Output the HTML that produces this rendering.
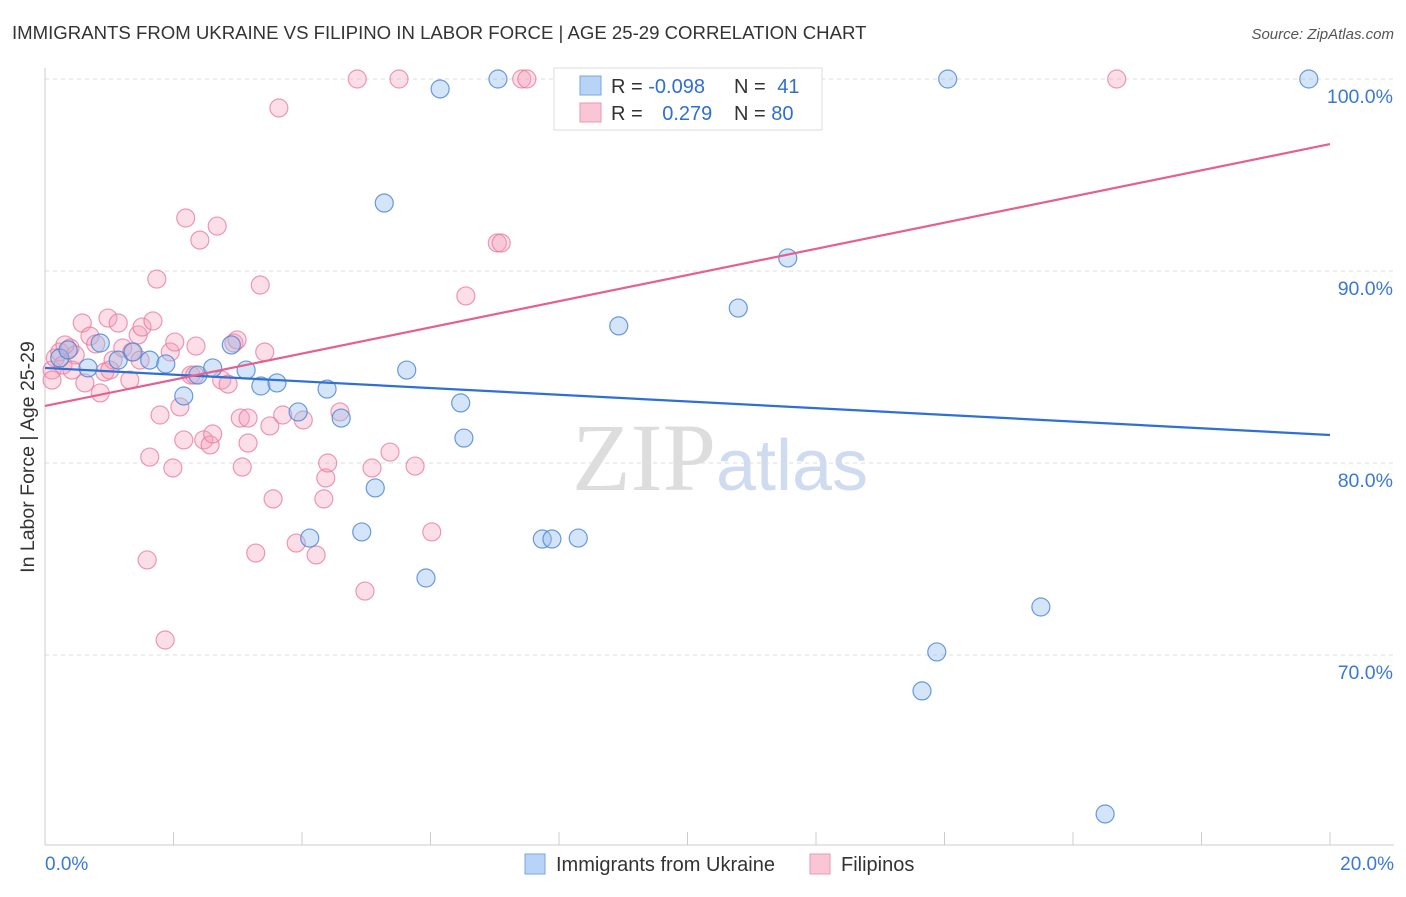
<!DOCTYPE html>
<html><head><meta charset="utf-8"><style>
body{margin:0;background:#fff;font-family:"Liberation Sans",sans-serif;}
svg text{font-family:"Liberation Sans",sans-serif;}
</style></head><body>
<svg id="chart" width="1406" height="892" xmlns="http://www.w3.org/2000/svg">
<text x="12" y="39" font-size="18.6" fill="#333">IMMIGRANTS FROM UKRAINE VS FILIPINO IN LABOR FORCE | AGE 25-29 CORRELATION CHART</text>
<text x="1394" y="39" font-size="15" fill="#555" text-anchor="end" font-style="italic">Source: ZipAtlas.com</text>
<text x="720" y="490" font-size="96" text-anchor="middle"><tspan fill="#ddd" font-family="Liberation Serif">ZIP</tspan><tspan fill="#cfdcf0" font-size="72">atlas</tspan></text>
<g id="grid"></g><g id="axes"></g>
<g id="pts"></g><g id="lines"></g>
<text transform="translate(34,457) rotate(-90)" font-size="19.5" fill="#333" text-anchor="middle">In Labor Force | Age 25-29</text>
<g>
<rect x="554" y="68" width="268" height="62" fill="#fff" stroke="#ddd"/>
<rect x="580" y="76" width="21" height="19" fill="#b8d3f5" stroke="#7aa6e0"/>
<rect x="580" y="103" width="21" height="19" fill="#f9c6d5" stroke="#ec97b2"/>
<text x="611" y="93" font-size="20" fill="#333">R = <tspan fill="#2f6fd0">-0.098</tspan></text>
<text x="734" y="93" font-size="20" fill="#333">N = <tspan fill="#2f6fd0" dx="6">41</tspan></text>
<text x="611" y="120" font-size="20" fill="#333">R = <tspan fill="#2f6fd0" dx="14">0.279</tspan></text>
<text x="734" y="120" font-size="20" fill="#333">N = <tspan fill="#2f6fd0">80</tspan></text>
</g>
<g>
<rect x="525" y="854" width="20" height="20" fill="#b8d3f5" stroke="#7aa6e0"/>
<text x="556" y="871" font-size="20" fill="#333">Immigrants from Ukraine</text>
<rect x="810" y="854" width="20" height="20" fill="#f9c6d5" stroke="#ec97b2"/>
<text x="841" y="871" font-size="20" fill="#333">Filipinos</text>
</g>
</svg>
<script>
const blueX=[0.23,0.36,0.67,0.86,1.14,1.37,1.63,1.88,2.16,2.38,2.61,2.90,3.13,3.36,3.61,3.94,4.12,4.39,4.61,4.93,5.14,5.28,5.63,5.93,6.15,6.47,6.52,7.05,7.74,7.89,8.30,8.93,10.19,10.79,11.56,13.65,13.88,14.05,15.50,16.50,19.67];
const blueY=[85.47,85.89,84.95,86.25,85.36,85.78,85.36,85.16,83.49,84.58,84.95,86.15,84.84,84.01,84.17,82.66,76.09,83.85,82.34,76.41,78.70,93.54,84.84,74.01,99.48,83.13,81.30,100,76.04,76.04,76.09,87.14,100,88.07,90.68,68.13,70.16,100,72.50,61.72,100];
const pinkX=[0.11,0.16,0.23,0.28,0.39,0.47,0.58,0.62,0.70,0.79,0.86,0.93,0.98,1.06,1.14,1.21,1.32,1.35,1.45,1.51,1.59,1.63,1.68,1.74,1.79,1.87,1.95,1.99,2.02,2.10,2.16,2.19,2.27,2.35,2.41,2.47,2.57,2.61,2.68,2.75,2.85,2.94,2.99,3.04,3.07,3.16,3.16,3.28,3.35,3.42,3.50,3.55,3.64,3.70,3.91,4.02,4.22,4.34,4.37,4.40,4.59,4.86,4.98,5.09,5.37,5.51,5.76,6.02,6.55,7.04,7.10,7.42,7.50,16.68,0.11,0.31,0.42,1.01,1.48,2.33];
const pinkY=[84.84,85.47,85.78,85.10,85.99,85.63,87.29,84.17,86.61,86.20,83.65,84.74,87.55,85.36,87.29,85.99,84.32,85.78,86.67,87.08,74.95,80.31,87.40,89.58,82.50,70.78,85.78,79.74,86.30,82.92,81.20,92.76,84.58,86.09,91.61,81.20,80.94,81.51,92.34,84.32,84.11,86.25,86.41,82.34,79.79,81.04,82.34,75.31,89.27,85.78,81.93,78.13,98.49,82.50,75.83,82.24,75.21,78.13,79.22,80.00,82.66,100,73.33,79.74,80.57,100,79.84,76.41,88.70,91.46,91.46,100,100,100,84.32,86.15,84.84,84.84,85.36,84.58];
const blueTrend=[84.95,81.46];
const pinkTrend=[82.97,96.61];
const yTicks=[100,90,80,70];
const xTicks=[0,2,4,6,8,10,12,14,16,18,20];
const NS='http://www.w3.org/2000/svg';
const sx=v=>45+v*64.25, sy=v=>79+(100-v)*19.2;
function mk(tag,parent,attrs){const e=document.createElementNS(NS,tag);for(const k in attrs)e.setAttribute(k,attrs[k]);document.getElementById(parent).appendChild(e);return e;}
yTicks.forEach(t=>{
  const l=mk('line','grid',{x1:45,x2:1394,y1:sy(t),y2:sy(t),stroke:'#ddd','stroke-dasharray':'4,4'});
  
  
  const tx=mk('text','grid',{x:1393,y:sy(t)+24,'font-size':19.5,fill:'#3a78d6','text-anchor':'end'});
  tx.textContent=t.toFixed(1)+'%';
  
  
});
const ax=mk('line','axes',{x1:45,x2:45,y1:68,y2:845,stroke:'#ccc'});


const bx=mk('line','axes',{x1:45,x2:1394,y1:845,y2:845,stroke:'#ccc'});


xTicks.forEach(t=>{
  const l=mk('line','axes',{x1:sx(t),x2:sx(t),y1:832,y2:845,stroke:'#ccc'});
  
  
});
[[0,'start',45],[20,'end',1394]].forEach(([v,a,x])=>{
  const tx=mk('text','axes',{x:x,y:870,'font-size':19,fill:'#3a78d6','text-anchor':a});
  tx.textContent=v.toFixed(1)+'%';
  
  
});
pinkX.forEach((x,i)=>{
  const c=mk('circle','pts',{cx:sx(x),cy:sy(pinkY[i]),r:9,fill:'rgba(244,160,186,0.35)',stroke:'rgba(232,120,155,0.75)','stroke-width':1.2});
  
  
});
blueX.forEach((x,i)=>{
  const c=mk('circle','pts',{cx:sx(x),cy:sy(blueY[i]),r:9,fill:'rgba(150,190,240,0.4)',stroke:'rgba(70,130,215,0.8)','stroke-width':1.2});
  
  
});
const bl=mk('line','lines',{x1:sx(0),y1:sy(blueTrend[0]),x2:sx(20),y2:sy(blueTrend[1]),stroke:'#2f6fd6','stroke-width':2.2});


const pl=mk('line','lines',{x1:sx(0),y1:sy(pinkTrend[0]),x2:sx(20),y2:sy(pinkTrend[1]),stroke:'#e5608d','stroke-width':2.2});


</script>
</body></html>
